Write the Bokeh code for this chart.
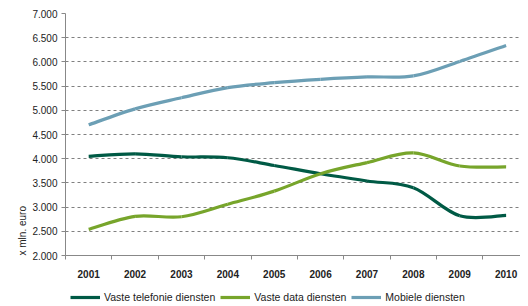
from bokeh.plotting import figure
from bokeh.models import FixedTicker, Legend, LegendItem, Title, Range1d
from bokeh.layouts import column
from bokeh.embed import file_html
from bokeh.resources import INLINE

years = [2001, 2002, 2003, 2004, 2005, 2006, 2007, 2008, 2009, 2010]
year_labels = ["2001", "2002", "2003", "2004", "2005", "2006", "2007", "2008", "2009", "2010"]
vaste_telefonie = [4050, 4100, 4040, 4020, 3860, 3690, 3540, 3400, 2820, 2830]
vaste_data = [2540, 2810, 2800, 3060, 3330, 3690, 3920, 4120, 3850, 3830]
mobiele = [4700, 5030, 5260, 5470, 5570, 5640, 5690, 5710, 6010, 6340]
series_names = ["Vaste telefonie diensten", "Vaste data diensten", "Mobiele diensten"]
series_colors = ["#005a45", "#77a52b", "#6c9fb5"]
y_ticks = [2000, 2500, 3000, 3500, 4000, 4500, 5000, 5500, 6000, 6500, 7000]
y_labels = ["2.000", "2.500", "3.000", "3.500", "4.000", "4.500", "5.000", "5.500", "6.000", "6.500", "7.000"]

FONT = "Liberation Sans"

p = figure(frame_width=455, frame_height=242, output_backend="svg", toolbar_location=None,
           x_range=Range1d(2000.5, 2010.31), y_range=Range1d(2000, 7000),
           min_border_top=13, min_border_right=0, min_border_left=65, min_border_bottom=32)
p.outline_line_color = None
p.background_fill_color = "white"
p.border_fill_color = "white"


def smooth(xs, ys):
    # Catmull-Rom style control points computed from the data points
    n = len(xs)
    x0, y0, x1, y1, cx0, cy0, cx1, cy1 = [], [], [], [], [], [], [], []
    for i in range(n - 1):
        xa, ya = xs[i], ys[i]
        xb, yb = xs[i + 1], ys[i + 1]
        xp, yp = (xs[i - 1], ys[i - 1]) if i > 0 else (xa, ya)
        xn, yn = (xs[i + 2], ys[i + 2]) if i + 2 < n else (xb, yb)
        t = 1 / 6
        x0.append(xa); y0.append(ya); x1.append(xb); y1.append(yb)
        cx0.append(xa + (xb - xp) * t); cy0.append(ya + (yb - yp) * t)
        cx1.append(xb - (xn - xa) * t); cy1.append(yb - (yn - ya) * t)
    return dict(x0=x0, y0=y0, x1=x1, y1=y1, cx0=cx0, cy0=cy0, cx1=cx1, cy1=cy1)


all_series = [vaste_telefonie, vaste_data, mobiele]
for vals, col in zip(all_series, series_colors):
    p.bezier(source=smooth(years, vals), x0="x0", y0="y0", x1="x1", y1="y1",
             cx0="cx0", cy0="cy0", cx1="cx1", cy1="cy1",
             line_color=col, line_width=3.2)

# x axis: labels at year centres, tick marks at boundaries (minor ticks)
boundaries = [y - 0.5 for y in years] + [years[-1] + 0.5]
p.xaxis.ticker = FixedTicker(ticks=years, minor_ticks=boundaries)
p.xaxis.major_label_overrides = {y: l for y, l in zip(years, year_labels)}
p.xaxis.major_tick_out = 0
p.xaxis.major_tick_in = 0
p.xaxis.minor_tick_out = 4
p.xaxis.minor_tick_in = 0
p.xaxis.axis_line_color = "#888888"
p.xaxis.minor_tick_line_color = "#888888"
p.xaxis.major_label_text_font = FONT
p.xaxis.major_label_text_font_size = "10px"
p.xaxis.major_label_text_font_style = "bold"
p.xaxis.major_label_text_color = "#222222"
p.xaxis.major_label_standoff = 10

p.yaxis.ticker = FixedTicker(ticks=y_ticks)
p.yaxis.major_label_overrides = {t: l for t, l in zip(y_ticks, y_labels)}
p.yaxis.major_tick_out = 4
p.yaxis.major_tick_in = 0
p.yaxis.minor_tick_line_color = None
p.yaxis.axis_line_color = "#888888"
p.yaxis.major_tick_line_color = "#888888"
p.yaxis.major_label_text_font = FONT
p.yaxis.major_label_text_font_size = "10px"
p.yaxis.major_label_text_color = "#222222"
p.yaxis.major_label_standoff = 4

p.xgrid.grid_line_color = None
p.ygrid.grid_line_color = "#808080"
p.ygrid.grid_line_dash = "3 3"
p.ygrid.grid_line_width = 1

p.add_layout(Title(text="x mln. euro", align="left", text_font=FONT, text_font_size="10px",
                   text_font_style="normal", text_color="#222222", standoff=4), "left")

# legend strip below the chart (series lines lie outside its visible range)
lg = figure(width=520, height=18, output_backend="svg", toolbar_location=None,
            x_range=Range1d(0, 1), y_range=Range1d(0, 1),
            x_axis_type=None, y_axis_type=None, min_border=0)
lg.outline_line_color = None
lg.xgrid.grid_line_color = None
lg.ygrid.grid_line_color = None
items = []
for name, vals, col in zip(series_names, all_series, series_colors):
    r = lg.line(years, vals, line_color=col, line_width=3.2)
    items.append(LegendItem(label=name, renderers=[r]))

legend = Legend(items=items, orientation="horizontal", location=(5, 2),
                label_text_font=FONT, label_text_font_size="10.5px", label_text_color="#222222",
                glyph_width=30, glyph_height=8, label_height=12, label_standoff=4, spacing=5,
                padding=0, margin=0, border_line_color=None, background_fill_alpha=0)
lg.add_layout(legend, "center")

layout = column(p, lg, spacing=0)
open("out.html", "w").write(file_html(layout, INLINE))
